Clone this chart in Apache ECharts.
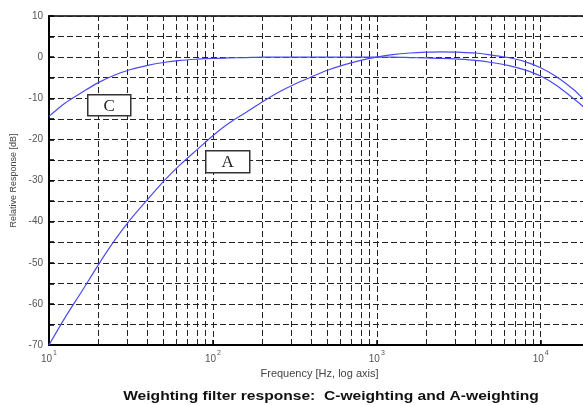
<!DOCTYPE html>
<html>
<head>
<meta charset="utf-8">
<script src="https://cdn.jsdelivr.net/npm/echarts@6/dist/echarts.min.js"></script>
<style>
  html, body { margin: 0; padding: 0; background: #fff; overflow: hidden; }
  #chart { width: 583px; height: 405px; }
</style>
</head>
<body>
<div id="chart"></div>
<script>
// Frequencies (Hz) at which the weighting curves are sampled
const freqHz = [10, 12.5, 16, 20, 25, 31.5, 40, 50, 63, 80, 100, 125, 160, 200, 250, 315, 400, 500, 630, 800,
  1000, 1250, 1600, 2000, 2500, 3150, 4000, 5000, 6300, 8000, 10000, 12500, 16000, 18000, 20000];

// A-weighting response (dB)
const aWeightDb = [-70.0, -63.4, -56.7, -50.5, -44.7, -39.4, -34.6, -30.2, -26.2, -22.5, -19.1, -16.1, -13.4, -10.9, -8.6, -6.6, -4.8, -3.2, -1.9, -0.8,
  0.0, 0.6, 1.0, 1.2, 1.3, 1.2, 1.0, 0.5, -0.1, -1.1, -2.6, -4.8, -8.0, -10.0, -11.8];

// C-weighting response (dB)
const cWeightDb = [-14.4, -11.2, -8.5, -6.2, -4.4, -3.0, -2.0, -1.3, -0.8, -0.5, -0.3, -0.2, -0.1, 0.0, 0.0, 0.0, 0.0, 0.0, 0.0, 0.0,
  0.0, 0.0, -0.1, -0.2, -0.3, -0.5, -0.8, -1.3, -2.0, -3.1, -4.6, -6.9, -10.2, -11.9, -13.6];

// Intermediate log-grid lines (2..9 within each decade)
const minorGridHz = [20, 30, 40, 50, 60, 70, 80, 90,
  200, 300, 400, 500, 600, 700, 800, 900,
  2000, 3000, 4000, 5000, 6000, 7000, 8000, 9000];

// Axis range and tick step
const yMin = -70, yMax = 10, yStep = 5;
const xMin = 10, xMax = 20000;

const FONT = '"Liberation Sans", Arial, Helvetica, sans-serif';
const SERIF = '"Liberation Serif", "DejaVu Serif", serif';
const gridLine = { color: '#222', width: 1, type: [6, 3] };
const curveColor = '#4a4af2';

const chart = echarts.init(document.getElementById('chart'), null, { renderer: 'canvas' });

const pairs = (ys) => freqHz.map((f, i) => [f, ys[i]]);

// Boxed curve tag (letter inside a framed white box)
function tag(letter, left, top, w, h) {
  return {
    type: 'group', left: left, top: top,
    children: [
      { type: 'rect', z: 50, shape: { x: 0, y: 0, width: w, height: h },
        style: { fill: '#fff', stroke: '#333', lineWidth: 1.5 } },
      { type: 'text', z: 51, x: w / 2, y: h / 2 + 1,
        style: { text: letter, font: '17px ' + SERIF, fill: '#222', align: 'center', verticalAlign: 'middle' } }
    ]
  };
}

chart.setOption({
  animation: false,
  backgroundColor: '#fff',
  grid: {
    left: 49, top: 16, height: 329, width: 541,
    outerBoundsMode: 'none', containLabel: false,
    show: true, borderColor: '#000', borderWidth: 1.5, backgroundColor: 'transparent'
  },
  xAxis: {
    type: 'log', logBase: 10, min: xMin, max: xMax,
    name: 'Frequency [Hz, log axis]', nameLocation: 'middle', nameGap: 20,
    nameTextStyle: { fontFamily: FONT, fontSize: 11, color: '#444' },
    axisLine: { show: true, onZero: false, lineStyle: { color: '#000', width: 2 } },
    axisTick: { show: true, inside: true, length: 5, lineStyle: { color: '#000', width: 1.5 } },
    splitLine: { show: true, lineStyle: gridLine },
    axisLabel: {
      margin: 5,
      formatter: function (v) {
        const e = Math.round(Math.log10(v));
        if (Math.abs(Math.pow(10, e) - v) > 1e-6 * v) return '';
        return '{b|10}{s|' + e + '}';
      },
      rich: {
        b: { fontFamily: FONT, fontSize: 10, color: '#555', padding: [4, 0, 0, 0] },
        s: { fontFamily: FONT, fontSize: 7, color: '#555', verticalAlign: 'top', padding: [0, 0, 4, 1] }
      }
    }
  },
  yAxis: {
    type: 'value', min: yMin, max: yMax, interval: yStep,
    name: 'Relative Response [dB]', nameLocation: 'middle', nameGap: 30, nameRotate: 90,
    nameTextStyle: { fontFamily: FONT, fontSize: 9, color: '#444' },
    axisLine: { show: true, onZero: false, lineStyle: { color: '#000', width: 2 } },
    axisTick: { show: true, inside: true, length: 5, lineStyle: { color: '#000', width: 1.5 } },
    splitLine: { show: true, lineStyle: gridLine },
    axisLabel: {
      margin: 6, fontFamily: FONT, fontSize: 10, color: '#555',
      formatter: function (v) { return (v % 10 === 0) ? String(v) : ''; }
    }
  },
  series: [
    {
      name: 'grid', type: 'line', data: [], silent: true,
      markLine: {
        silent: true, symbol: 'none', label: { show: false },
        lineStyle: gridLine,
        data: minorGridHz.map(f => ({ xAxis: f }))
      }
    },
    {
      name: 'C', type: 'line', data: pairs(cWeightDb), smooth: 0.3,
      showSymbol: false, lineStyle: { color: curveColor, width: 1.2 }, z: 5
    },
    {
      name: 'A', type: 'line', data: pairs(aWeightDb), smooth: 0.3,
      showSymbol: false, lineStyle: { color: curveColor, width: 1.2 }, z: 5
    }
  ],
  graphic: [
    tag('C', 87, 94, 43, 21),
    tag('A', 205, 150, 44, 22),
    {
      type: 'text', z: 50, x: 331, y: 397, scaleX: 1.3, originX: 0, originY: 0,
      style: {
        text: 'Weighting filter response:  C-weighting and A-weighting',
        font: 'bold 12px ' + FONT, fill: '#111', align: 'center', verticalAlign: 'middle'
      }
    }
  ]
});
</script>
</body>
</html>
